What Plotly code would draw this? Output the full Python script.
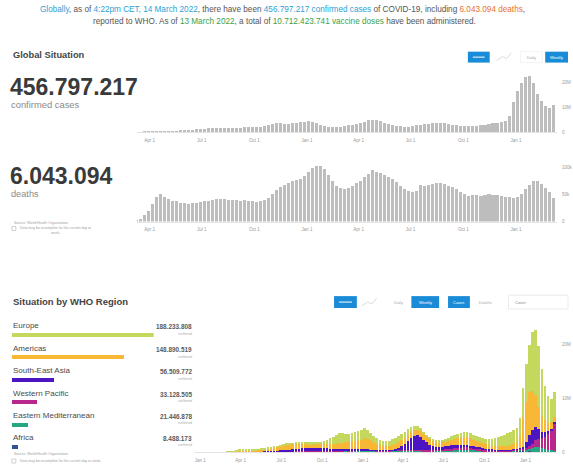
import pandas as pd
import plotly.graph_objects as go

W, H = 573, 472
FONT = "Arial, 'Liberation Sans', sans-serif"

# Weekly reporting periods (week starting Monday)
week_start = pd.date_range("2020-01-06", periods=114, freq="7D")

# Weekly new cases by WHO region, in millions
europe = [
    0, 0, 0, 0.0001, 0.0001, 0.0001, 0.0002, 0.002, 0.02, 0.06,
    0.15, 0.25, 0.28, 0.27, 0.24, 0.22, 0.2, 0.17, 0.15, 0.14,
    0.13, 0.13, 0.13, 0.13, 0.14, 0.14, 0.14, 0.14, 0.15, 0.16,
    0.18, 0.2, 0.22, 0.25, 0.28, 0.33, 0.38, 0.42, 0.5, 0.65,
    0.85, 1.1, 1.4, 1.65, 1.85, 1.75, 1.6, 1.5, 1.55, 1.6,
    1.7, 1.75, 1.8, 1.6, 1.35, 1.15, 1.0, 0.9, 0.85, 0.9,
    0.95, 1.05, 1.15, 1.2, 1.2, 1.15, 1.05, 0.95, 0.85, 0.72,
    0.6, 0.5, 0.4, 0.33, 0.28, 0.27, 0.3, 0.4, 0.55, 0.7,
    0.8, 0.85, 0.85, 0.9, 0.95, 0.98, 0.98, 0.95, 0.92, 0.9,
    0.92, 0.98, 1.1, 1.25, 1.45, 1.65, 1.85, 2.1, 2.35, 2.45,
    2.5, 2.55, 3.3, 5.4, 7.0, 8.8, 11.0, 12.0, 11.5, 8.7,
    6.5, 5.0, 4.3, 4.6,
]
americas = [
    0, 0, 0, 0, 0, 0, 0, 0.0001, 0.001, 0.005,
    0.03, 0.1, 0.2, 0.24, 0.24, 0.26, 0.27, 0.3, 0.32, 0.37,
    0.42, 0.48, 0.52, 0.6, 0.7, 0.8, 0.9, 0.98, 1.02, 1.0,
    0.95, 0.92, 0.86, 0.82, 0.76, 0.72, 0.7, 0.68, 0.7, 0.72,
    0.75, 0.8, 0.88, 0.98, 1.1, 1.2, 1.25, 1.35, 1.5, 1.6,
    1.7, 1.75, 2.1, 2.0, 1.7, 1.45, 1.2, 1.0, 0.85, 0.8,
    0.8, 0.85, 0.95, 1.05, 1.15, 1.2, 1.2, 1.15, 1.1, 1.05,
    1.0, 1.0, 1.05, 1.1, 1.1, 1.05, 0.95, 0.85, 0.8, 0.8,
    0.95, 1.1, 1.25, 1.35, 1.4, 1.45, 1.35, 1.2, 1.1, 1.0,
    0.9, 0.8, 0.72, 0.68, 0.65, 0.65, 0.66, 0.68, 0.75, 0.85,
    1.0, 1.2, 2.3, 5.6, 7.5, 8.0, 7.3, 6.0, 4.0, 3.0,
    2.2, 1.6, 1.2, 0.95,
]
south_east_asia = [
    0, 0, 0, 0, 0, 0, 0, 0, 0.0001, 0.0003,
    0.001, 0.003, 0.005, 0.01, 0.014, 0.02, 0.025, 0.03, 0.035, 0.045,
    0.055, 0.07, 0.08, 0.1, 0.11, 0.15, 0.18, 0.22, 0.28, 0.34,
    0.4, 0.45, 0.5, 0.55, 0.6, 0.65, 0.68, 0.65, 0.6, 0.55,
    0.5, 0.45, 0.42, 0.38, 0.34, 0.3, 0.3, 0.28, 0.25, 0.22,
    0.2, 0.18, 0.16, 0.15, 0.14, 0.13, 0.12, 0.12, 0.13, 0.14,
    0.15, 0.2, 0.3, 0.45, 0.7, 1.05, 1.6, 2.2, 2.6, 2.7,
    2.5, 2.0, 1.5, 1.1, 0.8, 0.62, 0.55, 0.55, 0.6, 0.65,
    0.65, 0.6, 0.55, 0.5, 0.45, 0.42, 0.38, 0.35, 0.3, 0.28,
    0.25, 0.22, 0.2, 0.18, 0.17, 0.16, 0.15, 0.14, 0.13, 0.12,
    0.12, 0.12, 0.13, 0.35, 1.1, 2.0, 2.5, 2.4, 1.8, 1.2,
    0.8, 0.55, 0.4, 0.3,
]
western_pacific = [
    0, 0.0003, 0.002, 0.012, 0.022, 0.03, 0.008, 0.005, 0.006, 0.004,
    0.005, 0.008, 0.01, 0.012, 0.014, 0.01, 0.008, 0.007, 0.006, 0.007,
    0.007, 0.008, 0.01, 0.012, 0.014, 0.016, 0.02, 0.025, 0.03, 0.035,
    0.04, 0.045, 0.05, 0.045, 0.04, 0.035, 0.035, 0.035, 0.035, 0.035,
    0.035, 0.04, 0.04, 0.045, 0.05, 0.06, 0.07, 0.08, 0.09, 0.095,
    0.1, 0.1, 0.11, 0.1, 0.09, 0.08, 0.07, 0.06, 0.05, 0.05,
    0.05, 0.055, 0.06, 0.07, 0.08, 0.09, 0.1, 0.11, 0.12, 0.13,
    0.13, 0.13, 0.13, 0.12, 0.11, 0.11, 0.12, 0.14, 0.17, 0.2,
    0.25, 0.3, 0.35, 0.4, 0.45, 0.45, 0.45, 0.43, 0.4, 0.36,
    0.3, 0.26, 0.22, 0.2, 0.18, 0.17, 0.16, 0.15, 0.15, 0.16,
    0.17, 0.18, 0.2, 0.25, 0.4, 0.6, 0.9, 1.4, 1.6, 1.8,
    2.3, 2.9, 3.6, 5.0,
]
eastern_mediterranean = [
    0, 0, 0, 0, 0, 0, 0, 0.003, 0.008, 0.008,
    0.01, 0.015, 0.02, 0.025, 0.03, 0.035, 0.04, 0.05, 0.06, 0.07,
    0.08, 0.09, 0.1, 0.11, 0.11, 0.11, 0.1, 0.09, 0.085, 0.08,
    0.075, 0.075, 0.07, 0.07, 0.07, 0.075, 0.08, 0.085, 0.09, 0.1,
    0.11, 0.12, 0.13, 0.14, 0.15, 0.16, 0.17, 0.16, 0.15, 0.14,
    0.13, 0.13, 0.13, 0.13, 0.12, 0.12, 0.12, 0.12, 0.13, 0.14,
    0.16, 0.18, 0.2, 0.22, 0.24, 0.26, 0.27, 0.27, 0.25, 0.23,
    0.2, 0.17, 0.15, 0.14, 0.13, 0.13, 0.13, 0.14, 0.16, 0.2,
    0.25, 0.3, 0.33, 0.35, 0.35, 0.33, 0.3, 0.27, 0.24, 0.2,
    0.17, 0.15, 0.13, 0.12, 0.11, 0.1, 0.1, 0.1, 0.1, 0.1,
    0.1, 0.1, 0.11, 0.15, 0.25, 0.4, 0.6, 0.8, 0.85, 0.75,
    0.55, 0.4, 0.3, 0.25,
]
africa = [
    0, 0, 0, 0, 0, 0, 0, 0.0001, 0.0002, 0.0005,
    0.001, 0.002, 0.003, 0.004, 0.005, 0.006, 0.008, 0.01, 0.012, 0.015,
    0.02, 0.025, 0.03, 0.035, 0.045, 0.055, 0.065, 0.08, 0.09, 0.09,
    0.08, 0.07, 0.06, 0.05, 0.045, 0.04, 0.035, 0.03, 0.03, 0.03,
    0.03, 0.03, 0.03, 0.035, 0.04, 0.045, 0.05, 0.055, 0.06, 0.08,
    0.1, 0.12, 0.15, 0.14, 0.12, 0.1, 0.08, 0.06, 0.05, 0.045,
    0.04, 0.04, 0.04, 0.04, 0.04, 0.04, 0.035, 0.035, 0.035, 0.035,
    0.035, 0.04, 0.04, 0.05, 0.07, 0.1, 0.14, 0.17, 0.18, 0.17,
    0.15, 0.13, 0.12, 0.1, 0.09, 0.08, 0.07, 0.06, 0.05, 0.04,
    0.035, 0.03, 0.025, 0.02, 0.02, 0.018, 0.018, 0.02, 0.03, 0.06,
    0.15, 0.25, 0.3, 0.25, 0.18, 0.13, 0.1, 0.08, 0.07, 0.06,
    0.05, 0.04, 0.035, 0.03,
]

# Weekly deaths worldwide, in thousands
deaths_k = [
    0, 0, 0, 0.1, 0.3, 0.6, 0.8, 0.5, 0.8, 2,
    5, 12, 20, 33, 45, 50, 45, 41, 38, 37,
    35, 34, 33, 34, 34, 36, 37, 38, 40, 41,
    41, 41, 40, 40, 39, 38, 39, 38, 37, 36,
    37, 39, 44, 50, 58, 64, 68, 71, 74, 77,
    79, 84, 92, 98, 102, 102, 96, 85, 74, 66,
    61, 60, 62, 65, 70, 75, 82, 88, 94, 92,
    90, 86, 82, 78, 72, 66, 60, 56, 55, 57,
    68, 66, 67, 69, 70, 70, 69, 65, 63, 60,
    55, 50, 47, 48, 48, 47, 49, 51, 49, 48,
    47, 46, 45, 43, 45, 51, 60, 68, 74, 74,
    69, 62, 54, 44,
]

region_names = ["Europe", "Americas", "South-East Asia", "Western Pacific",
                "Eastern Mediterranean", "Africa"]
region_totals = [188233808, 148890519, 56509772, 33128505, 21446878, 8488173]
region_colors = ["#c3d85c", "#f8b734", "#4d14c2", "#b8288c", "#26a682", "#2d5592"]
region_weekly = [europe, americas, south_east_asia, western_pacific,
                 eastern_mediterranean, africa]

total_cases = 456797217
total_deaths = 6043094
vaccine_doses = 10712423741

quarter_ticks = pd.date_range("2020-01-01", "2022-01-01", freq="QS")

global_cases = [sum(v) for v in zip(*region_weekly)]


def dots(n):
    return f"{n:,}".replace(",", ".")


def fx(px):
    return px / W


def fy(py):
    return 1 - py / H


annotations = []
shapes = []


def text(x, y, s, size, color, anchor="left"):
    annotations.append(dict(
        x=fx(x), y=fy(y), xref="paper", yref="paper", text=s, showarrow=False,
        xanchor=anchor, yanchor="middle",
        font=dict(size=size, color=color, family=FONT)))


def rect(x0, y0, x1, y1, fill, line=None):
    shapes.append(dict(
        type="rect", xref="paper", yref="paper",
        x0=fx(x0), x1=fx(x1), y0=fy(y1), y1=fy(y0),
        fillcolor=fill,
        line=dict(width=0.7 if line else 0, color=line or fill)))


def hline(x0, x1, y, color, width=1):
    shapes.append(dict(type="line", xref="paper", yref="paper",
                       x0=fx(x0), x1=fx(x1), y0=fy(y), y1=fy(y),
                       line=dict(color=color, width=width)))


def icon(x0, y0, color="#dcdcdc"):
    shapes.append(dict(type="path", xref="paper", yref="paper",
                       path=f"M {fx(x0)},{fy(y0 + 8)} L {fx(x0 + 6)},{fy(y0 + 4)} "
                            f"L {fx(x0 + 10)},{fy(y0 + 6)} L {fx(x0 + 15)},{fy(y0)}",
                       line=dict(color=color, width=1)))


BLUE = "#1a8bd6"
DAY_MS = 86400000

fig = go.Figure()

# Global weekly cases
fig.add_trace(go.Bar(x=week_start, y=global_cases, xaxis="x", yaxis="y",
                     marker=dict(color="#bdbdbd", line=dict(width=0)),
                     width=5.3 * DAY_MS))
# Global weekly deaths
fig.add_trace(go.Bar(x=week_start, y=deaths_k, xaxis="x2", yaxis="y2",
                     marker=dict(color="#bdbdbd", line=dict(width=0)),
                     width=5.3 * DAY_MS))
# Cumulative cases per region
fig.add_trace(go.Bar(x=region_totals, y=list(range(len(region_names))),
                     orientation="h", xaxis="x3", yaxis="y3",
                     marker=dict(color=region_colors, line=dict(width=0)),
                     width=0.18))
# Weekly cases stacked by region (Africa at the bottom, Europe on top)
for name, vals, color in reversed(list(zip(region_names, region_weekly, region_colors))):
    fig.add_trace(go.Bar(x=week_start, y=vals, name=name, xaxis="x4", yaxis="y4",
                         marker=dict(color=color, line=dict(width=0)),
                         width=6 * DAY_MS))

tickfont = dict(size=4.5, color="#9a9a9a", family=FONT)
date_axis = dict(type="date", tickvals=quarter_ticks, tickformat="%b %-d",
                 tickfont=tickfont, showgrid=False, showline=True,
                 linecolor="#e4e4e4", linewidth=1, ticks="", zeroline=False,
                 ticklabelstandoff=3, fixedrange=True)
value_axis = dict(side="right", showgrid=False, zeroline=False, showline=False,
                  ticks="", tickfont=tickfont, ticklabelstandoff=4, fixedrange=True)

top_range = ["2020-03-09 12:00", "2022-03-14"]

fig.update_layout(
    width=W, height=H, margin=dict(l=0, r=0, t=0, b=0),
    paper_bgcolor="white", plot_bgcolor="white",
    barmode="stack", showlegend=False,
    font=dict(family=FONT),
    xaxis=dict(domain=[fx(138), fx(562)], range=top_range, anchor="y", **date_axis),
    yaxis=dict(domain=[fy(133), fy(68)], range=[0, 26], anchor="x",
               tickvals=[0, 10, 20], ticktext=["0", "10M", "20M"], **value_axis),
    xaxis2=dict(domain=[fx(138), fx(562)], range=top_range, anchor="y2", **date_axis),
    yaxis2=dict(domain=[fy(223), fy(160)], range=[0, 115], anchor="x2",
                tickvals=[0, 50, 100], ticktext=["0", "50k", "100k"], **value_axis),
    xaxis3=dict(domain=[fx(12), fx(155)], range=[0, max(region_totals)],
                anchor="y3", visible=False, fixedrange=True),
    yaxis3=dict(domain=[fy(461), fy(326)], range=[5.5, -0.5], anchor="x3",
                visible=False, fixedrange=True),
    xaxis4=dict(domain=[fx(196), fx(562)], range=["2019-12-18 15:00", "2022-03-13 07:00"],
                anchor="y4", **date_axis),
    yaxis4=dict(domain=[fy(455), fy(325)], range=[0, 24.07], anchor="x4",
                tickvals=[0, 10, 20], ticktext=["0", "10M", "20M"], **value_axis),
)

# Headline
blue_t, orange_t, green_t = "#2a9fd6", "#e8712b", "#3a9f48"
line1 = (f"<span style='color:{blue_t}'>Globally</span>, as of "
         f"<span style='color:{blue_t}'>4:22pm CET, 14 March 2022</span>, there have been "
         f"<span style='color:{blue_t}'>{dots(total_cases)} confirmed cases</span> of COVID-19, including "
         f"<span style='color:{orange_t}'>{dots(total_deaths)} deaths</span>,")
line2 = (f"reported to WHO. As of <span style='color:{green_t}'>13 March 2022</span>, a total of "
         f"<span style='color:{green_t}'>{dots(vaccine_doses)} vaccine doses</span> have been administered.")
text(285, 9.5, line1, 8.2, "#555555", anchor="center")
text(287, 21.5, line2, 8.2, "#555555", anchor="center")

# Global situation panel
text(11, 55, "<b>Global Situation</b>", 9.3, "#444444")
text(8, 88, f"<b>{dots(total_cases)}</b>", 23, "#3a3a3a")
text(9, 105, "confirmed cases", 9.4, "#8a8a8a")
text(8, 177, f"<b>{dots(total_deaths)}</b>", 23, "#3a3a3a")
text(9, 195, "deaths", 9.2, "#8a8a8a")
text(12, 224, "Source: World Health Organization", 3.5, "#a0a0a0")
rect(12, 228, 16, 232, "white", "#bbbbbb")
text(18, 232, "Data may be incomplete for the current day or<br>week.", 3.5, "#a0a0a0")

# Toggle buttons, top panel
rect(472, 52, 494, 63, BLUE)
hline(477, 489, 57.5, "white", 1)
icon(501, 53)
rect(525, 52, 547, 63, "white", "#eeeeee")
text(536, 57.5, "Daily", 4, "#a8a8a8", anchor="center")
rect(550, 52, 573, 63, BLUE)
text(561.5, 57.5, "Weekly", 4, "white", anchor="center")

# Regional panel
text(11, 303, "<b>Situation by WHO Region</b>", 9.5, "#444444")
name_rows = [328, 351, 373, 396, 418, 440]
for name, total, row in zip(region_names, region_totals, name_rows):
    text(11, row, name, 8, "#4a4a4a")
    text(196, row + 1, f"<b>{dots(total)}</b>", 6.4, "#5a5a5a", anchor="right")
    text(196, row + 8, "confirmed", 3.2, "#aaaaaa", anchor="right")
text(12, 457, "Source: World Health Organization", 3.5, "#a0a0a0")
rect(12, 462, 16, 466, "white", "#bbbbbb")
text(18, 464, "Data may be incomplete for the current day or week.", 3.5, "#a0a0a0")

# Toggle buttons, regional panel
rect(337, 298, 360, 310, BLUE)
hline(342, 355, 304, "white", 1)
icon(365, 300)
text(402, 304, "Daily", 4, "#a8a8a8", anchor="center")
rect(415, 298, 443, 310, BLUE)
text(429, 304, "Weekly", 4, "white", anchor="center")
rect(452, 298, 474, 310, BLUE)
text(463, 304, "Cases", 4, "white", anchor="center")
text(490, 304, "Deaths", 4, "#a8a8a8", anchor="center")
rect(513, 297, 573, 311, "white", "#e2e2e2")
text(518, 304, "Count", 4, "#8a8a8a")

fig.update_layout(annotations=annotations, shapes=shapes)

fig.write_html("out.html")
